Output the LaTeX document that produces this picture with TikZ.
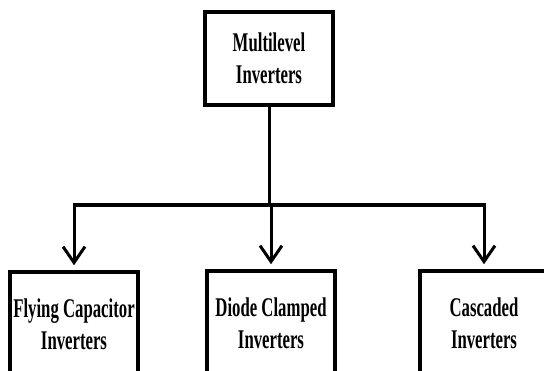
\documentclass[tikz,border=0pt]{standalone}
\usepackage{fontspec}
\setmainfont{Liberation Serif}[FakeStretch=0.62]
\usetikzlibrary{arrows.meta}
\tikzset{
  blk/.style={draw, line width=3.5pt, fill=white, minimum width=128pt, align=center,
    font=\fontsize{27}{32}\selectfont\bfseries},
  arr/.style={line width=3pt, -{Straight Barb[length=16pt,width=22pt,line width=3pt]}, shorten >=5pt}
}
\begin{document}
\begin{tikzpicture}[x=1pt,y=-1pt]
    \clip (0,0) rectangle (544,371);
    \node[blk, minimum height=93pt] (multi) at (269,58.5) {Multilevel\\Inverters};
    \node[blk, minimum height=104pt] (flying) at (74,324) {Flying Capacitor\\Inverters};
    \node[blk, minimum height=104pt] (diode) at (271,323) {Diode Clamped\\Inverters};
    \node[blk, minimum height=104pt] (casc) at (484,323) {Cascaded\\Inverters};
    \coordinate (hub) at (269,205);
    \draw[line width=3pt] (multi) -- (hub);
    \draw[arr] (hub) -| (flying);
    \draw[arr] (hub) -- (hub -| diode) -- (diode);
    \draw[arr] (hub) -| (casc);
    \draw[line width=4pt] (flying |- hub) -- (casc |- hub);
\end{tikzpicture}
\end{document}
